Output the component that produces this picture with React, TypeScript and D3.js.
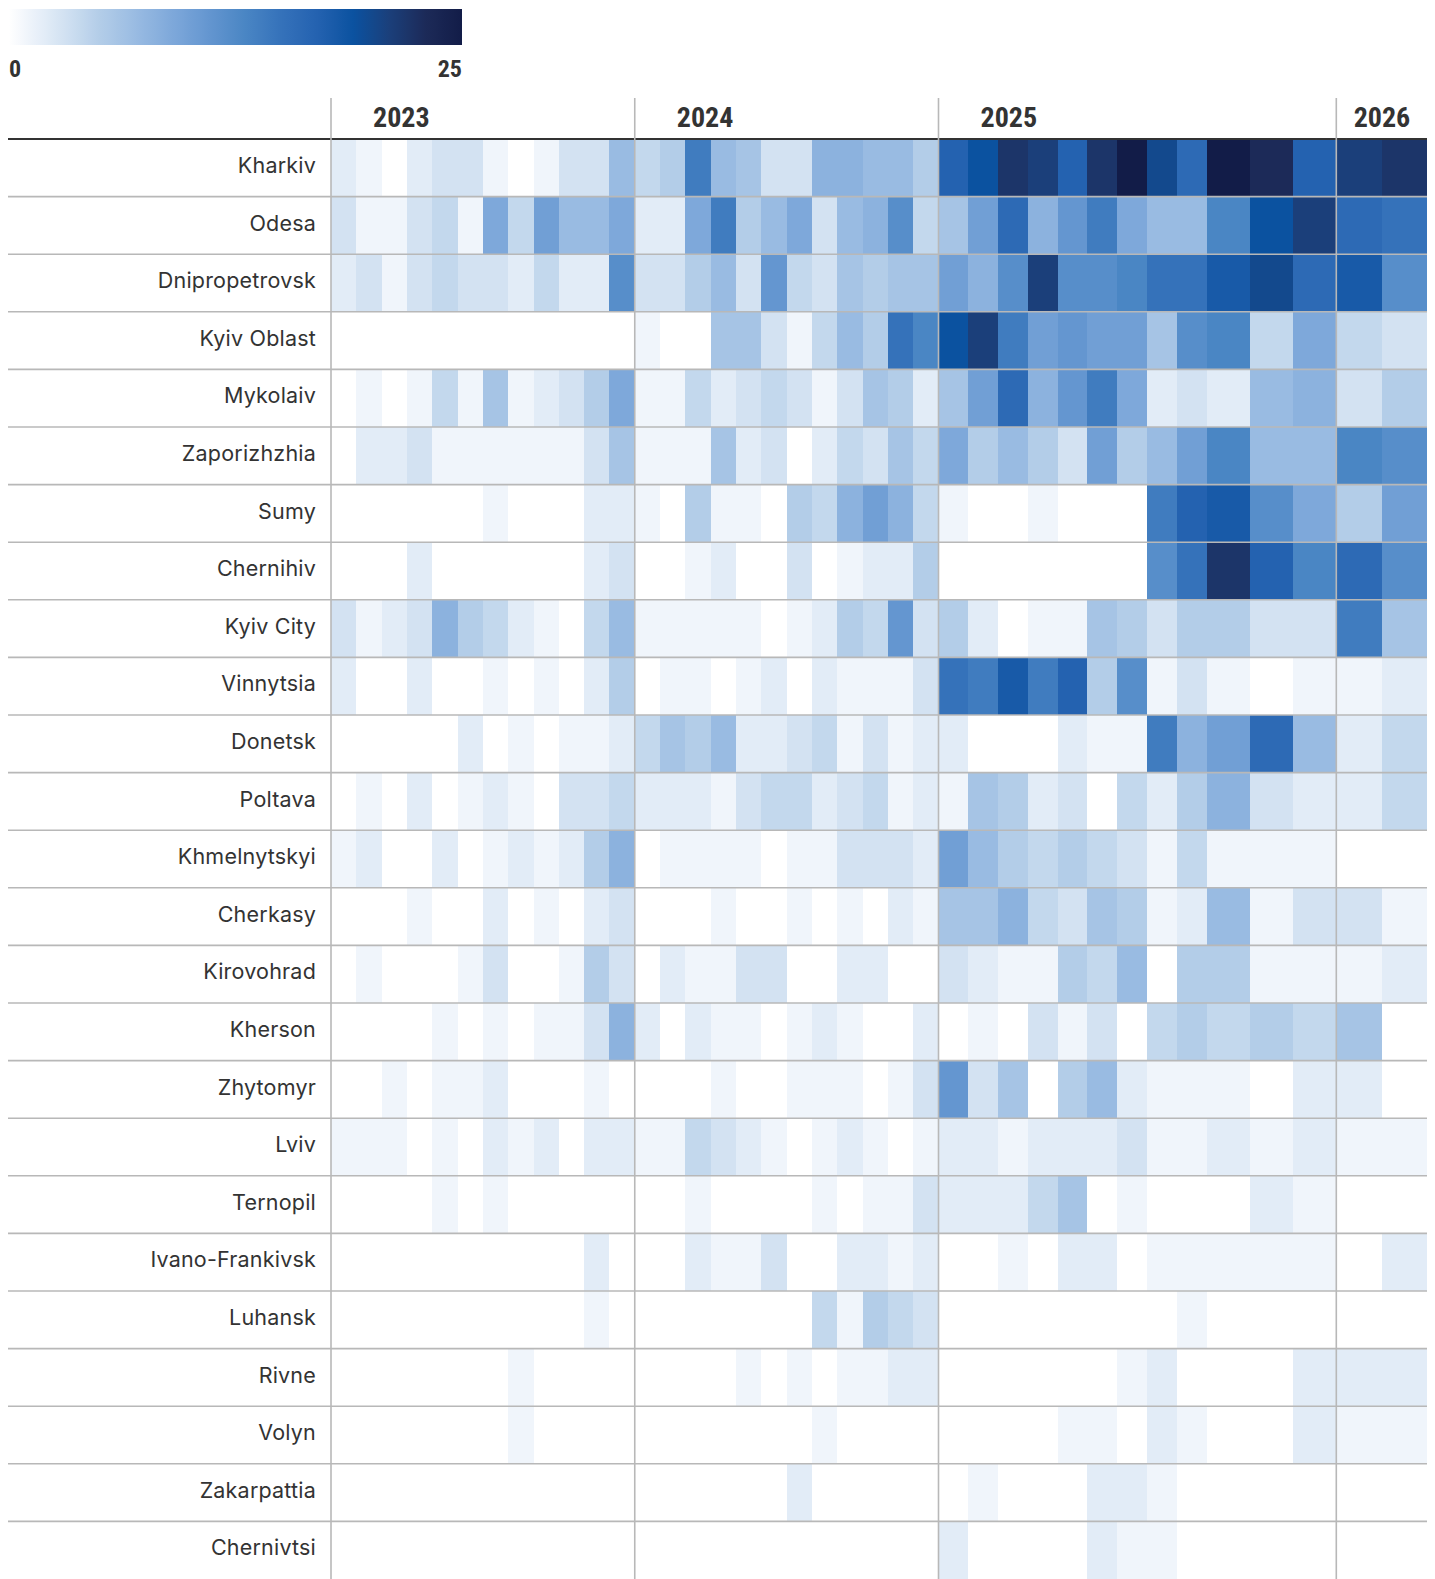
import React, { useEffect } from 'react';
import * as d3 from 'd3';

// Regions, top to bottom
const regions = [
  'Kharkiv', 'Odesa', 'Dnipropetrovsk', 'Kyiv Oblast', 'Mykolaiv', 'Zaporizhzhia', 'Sumy',
  'Chernihiv', 'Kyiv City', 'Vinnytsia', 'Donetsk', 'Poltava', 'Khmelnytskyi', 'Cherkasy',
  'Kirovohrad', 'Kherson', 'Zhytomyr', 'Lviv', 'Ternopil', 'Ivano-Frankivsk', 'Luhansk',
  'Rivne', 'Volyn', 'Zakarpattia', 'Chernivtsi',
];

// Year ticks on the top axis
const years = [2023, 2024, 2025, 2026];

// Monthly counts, Jan 2023 .. Feb 2026 (38 months)
const kharkiv = [2,1,0,2,3,3,1,0,1,3,3,7, 4,5,14,7,6,3,3,8,8,7,7,5, 17,19,22,21,17,22,25,20,16,25,23,17, 21,22];
const odesa = [3,1,1,3,4,1,9,4,10,7,7,9, 2,2,9,14,5,7,9,3,7,8,12,4, 6,10,16,8,11,14,9,7,7,13,19,21, 16,15];
const dnipropetrovsk = [2,3,1,3,4,3,3,2,4,2,2,12, 3,3,5,7,3,11,4,3,6,5,6,6, 10,8,12,21,12,12,13,15,15,18,20,16, 18,12];
const kyivOblast = [0,0,0,0,0,0,0,0,0,0,0,0, 1,0,0,6,6,3,1,4,7,5,15,13, 19,21,14,10,11,10,10,6,12,13,4,9, 4,3];
const mykolaiv = [0,1,0,1,4,1,6,1,2,3,5,9, 1,1,4,2,3,4,3,1,3,6,5,2, 6,10,16,8,11,14,9,2,3,2,7,8, 3,5];
const zaporizhzhia = [0,2,2,3,1,1,1,1,1,1,3,6, 1,1,1,6,2,3,0,2,4,3,6,4, 9,5,7,5,3,10,5,7,10,13,7,7, 13,12];
const sumy = [0,0,0,0,0,0,1,0,0,0,2,2, 1,0,5,1,1,0,5,4,8,10,8,4, 1,0,0,1,0,0,0,14,17,18,12,9, 5,10];
const chernihiv = [0,0,0,2,0,0,0,0,0,0,2,3, 0,0,1,2,0,0,3,0,1,2,2,5, 0,0,0,0,0,0,0,12,15,22,17,13, 16,12];
const kyivCity = [3,1,2,3,8,5,4,2,1,0,4,7, 1,1,1,1,1,0,1,2,5,4,11,3, 5,2,0,1,1,6,5,3,5,5,3,3, 14,6];
const vinnytsia = [2,0,0,2,0,0,1,0,1,0,2,5, 0,1,1,0,1,2,0,2,1,1,1,3, 15,14,18,14,17,5,12,1,3,1,0,1, 1,2];
const donetsk = [0,0,0,0,0,2,0,1,0,1,1,2, 4,6,5,7,2,2,3,4,1,3,1,2, 2,0,0,0,2,1,1,14,8,10,16,7, 2,4];
const poltava = [0,1,0,2,0,1,2,1,0,3,3,4, 2,2,2,1,3,4,4,2,3,4,1,2, 1,6,5,2,3,0,4,2,5,8,3,2, 2,4];
const khmelnytskyi = [1,2,0,0,2,0,1,2,1,2,5,8, 0,1,1,1,1,0,1,1,3,3,3,2, 10,7,5,4,5,4,3,1,4,1,1,1, 0,0];
const cherkasy = [0,0,0,1,0,0,2,0,1,0,2,3, 0,0,0,1,0,0,1,0,1,0,2,1, 6,6,8,4,3,6,5,1,2,7,1,3, 3,1];
const kirovohrad = [0,1,0,0,0,1,3,0,0,1,5,3, 0,2,1,1,3,3,0,0,2,2,0,0, 3,2,1,1,5,4,7,0,5,5,1,1, 1,2];
const kherson = [0,0,0,0,1,0,1,0,1,1,3,8, 2,0,2,1,1,0,1,2,1,0,0,2, 0,1,0,3,1,3,0,4,5,4,5,4, 6,0];
const zhytomyr = [0,0,1,0,1,1,2,0,0,0,1,0, 0,0,0,1,0,0,1,1,1,0,1,3, 11,3,6,0,5,7,2,1,1,1,0,2, 2,0];
const lviv = [1,1,1,0,1,0,2,1,2,0,2,2, 1,1,4,3,2,1,0,1,2,1,0,1, 2,2,1,2,2,2,3,1,1,2,1,2, 1,1];
const ternopil = [0,0,0,0,1,0,1,0,0,0,0,0, 0,0,1,0,0,0,0,1,0,1,1,3, 2,2,2,4,6,0,1,0,0,0,2,1, 0,0];
const ivanoFrankivsk = [0,0,0,0,0,0,0,0,0,0,2,0, 0,0,2,1,1,3,0,0,2,2,1,2, 0,0,1,0,2,2,0,1,1,1,1,1, 0,2];
const luhansk = [0,0,0,0,0,0,0,0,0,0,1,0, 0,0,0,0,0,0,0,4,1,5,4,3, 0,0,0,0,0,0,0,0,1,0,0,0, 0,0];
const rivne = [0,0,0,0,0,0,0,1,0,0,0,0, 0,0,0,0,1,0,1,0,1,1,2,2, 0,0,0,0,0,0,1,2,0,0,0,2, 2,2];
const volyn = [0,0,0,0,0,0,0,1,0,0,0,0, 0,0,0,0,0,0,0,1,0,0,0,0, 0,0,0,0,1,1,0,2,1,0,0,2, 1,1];
const zakarpattia = [0,0,0,0,0,0,0,0,0,0,0,0, 0,0,0,0,0,0,2,0,0,0,0,0, 0,1,0,0,0,2,2,1,0,0,0,0, 0,0];
const chernivtsi = [0,0,0,0,0,0,0,0,0,0,0,0, 0,0,0,0,0,0,0,0,0,0,0,0, 2,0,0,0,0,2,1,1,0,0,0,0, 0,0];

const rows = [
  kharkiv, odesa, dnipropetrovsk, kyivOblast, mykolaiv, zaporizhzhia, sumy, chernihiv,
  kyivCity, vinnytsia, donetsk, poltava, khmelnytskyi, cherkasy, kirovohrad, kherson,
  zhytomyr, lviv, ternopil, ivanoFrankivsk, luhansk, rivne, volyn, zakarpattia, chernivtsi,
];

// Colour ramp, 0 .. 25
const colorDomain = [0, 1, 3, 5, 7, 9, 11, 13, 15, 17, 19, 21, 23, 25];
const colorRange = ['#ffffff', '#f0f5fb', '#d3e2f2', '#b3cde8', '#99bbe2', '#7ea8da', '#6496d0',
  '#4a86c4', '#3572ba', '#2462b0', '#0b52a0', '#1b3f7a', '#1c2a58', '#121c48'];
const legendMax = 25;

const W = 1419;
const H = 1571;
const ROW_H = 57.6;
const TOP = 131;

const App: React.FC = () => {
  useEffect(() => {
    document.body.style.overflow = 'hidden';
  }, []);

  const nMonths = kharkiv.length;
  // columns get wider for the most recent months
  const x = d3.scaleLinear().domain([0, 24, 33, 36, nMonths]).range([323, 930.5, 1198.5, 1328.3, W]);
  const y = d3.scaleBand<string>().domain(regions).range([TOP, TOP + ROW_H * regions.length]);
  const color = d3.scaleLinear<string>().domain(colorDomain).range(colorRange)
    .interpolate(d3.interpolateRgb).clamp(true);

  const legendW = 453;
  const legendX = d3.scaleLinear().domain([0, legendMax]).range([1, 1 + legendW]);
  const stops = d3.range(0, legendMax + 0.01, 0.5);

  const textColor = '#333';
  const narrow = "'Liberation Sans Narrow', 'Arial Narrow', 'Roboto Condensed', sans-serif";
  const sans = "Inter, 'Noto Sans', sans-serif";

  return (
    <svg width={W} height={H} style={{ display: 'block', overflow: 'hidden' }}>
      <defs>
        <linearGradient id="legend-grad" x1="0" x2="1" y1="0" y2="0">
          {stops.map((v) => (
            <stop key={v} offset={`${(v / legendMax) * 100}%`} stopColor={color(v)} />
          ))}
        </linearGradient>
      </defs>

      {/* legend */}
      <rect x={legendX(0)} y={1} width={legendW} height={36} fill="url(#legend-grad)" />
      <text x={legendX(0)} y={69} fontFamily={narrow} fontWeight={700} fontSize={24} fill={textColor}>0</text>
      <text x={legendX(legendMax)} y={69} textAnchor="end" fontFamily={narrow} fontWeight={700} fontSize={24} fill={textColor}>
        {legendMax}
      </text>

      {/* cells */}
      {rows.map((vals, r) => (
        <g key={regions[r]}>
          {vals.map((v, i) => (
            <rect
              key={i}
              x={x(i)}
              y={y(regions[r])}
              width={x(i + 1) - x(i)}
              height={y.bandwidth()}
              fill={color(v)}
              shapeRendering="crispEdges"
            />
          ))}
        </g>
      ))}

      {/* row separators */}
      {regions.map((reg, r) => (
        <line
          key={reg}
          x1={0}
          x2={W}
          y1={y(reg)}
          y2={y(reg)}
          stroke={r === 0 ? '#333' : '#b8b8b8'}
          strokeWidth={r === 0 ? 2 : 1.6}
        />
      ))}

      {/* year boundaries and labels */}
      {years.map((yr) => {
        const start = (yr - years[0]) * 12;
        const x0 = x(start);
        const x1 = x(Math.min(start + 12, nMonths));
        const pad = Math.min(42, (x1 - x0 - 56) / 2);
        return (
          <g key={yr}>
            <line x1={x0} x2={x0} y1={90} y2={H} stroke="#b8b8b8" strokeWidth={1.6} />
            <text x={x0 + pad} y={119} fontFamily={narrow} fontWeight={700} fontSize={28} fill={textColor}>
              {yr}
            </text>
          </g>
        );
      })}

      {/* row labels */}
      {regions.map((reg) => (
        <text
          key={reg}
          x={308}
          y={(y(reg) ?? 0) + 34}
          textAnchor="end"
          fontFamily={sans}
          fontSize={21.5}
          letterSpacing={0.2}
          fill={textColor}
        >
          {reg}
        </text>
      ))}
    </svg>
  );
};

export default App;
